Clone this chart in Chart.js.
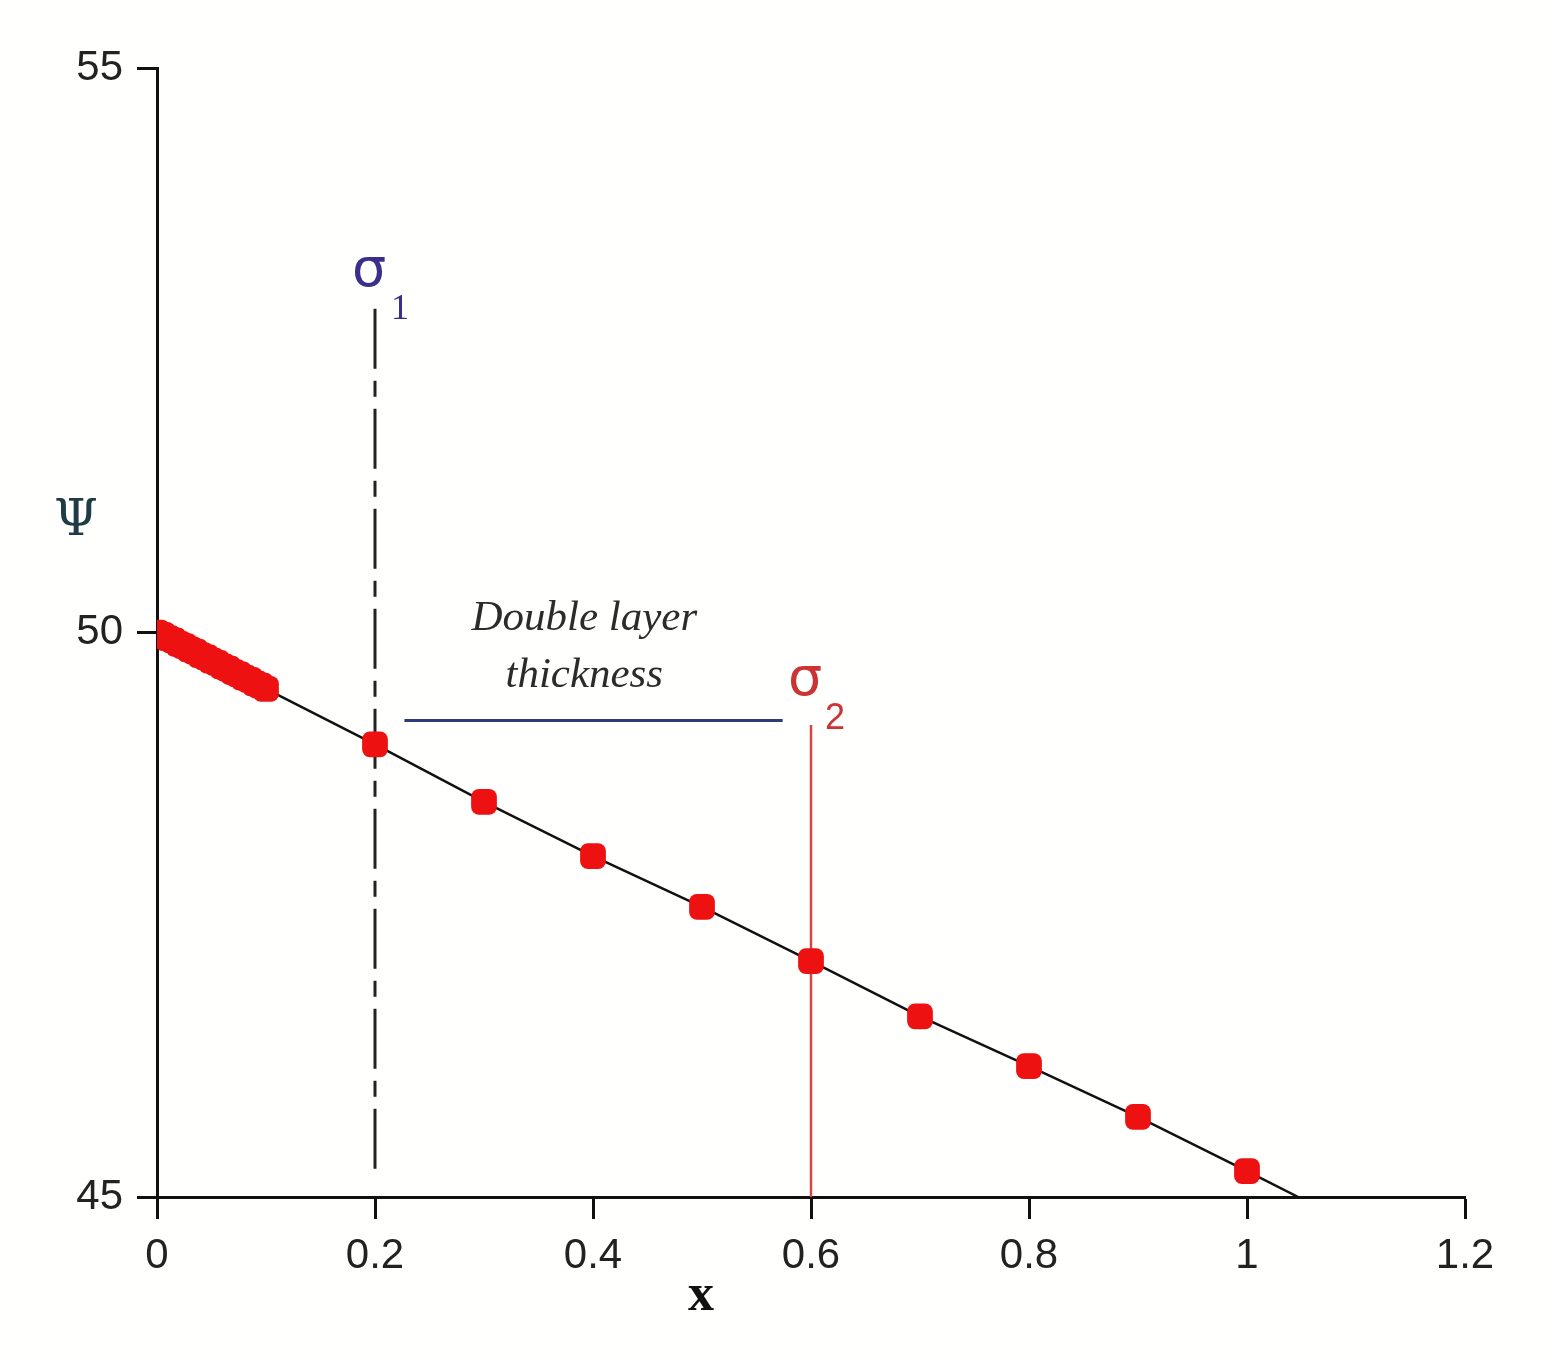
<!DOCTYPE html>
<html>
<head>
<meta charset="utf-8">
<script src="https://cdn.jsdelivr.net/npm/chart.js@4/dist/chart.umd.min.js"></script>
<style>
    html, body { margin: 0; padding: 0; background: #fffffd; }
    #wrap { width: 1555px; height: 1363px; }
</style>
</head>
<body>
<div id="wrap"><canvas id="psiChart" width="1555" height="1363"></canvas></div>
<script>
// measured points (dense part near the surface, then every 0.1)
const denseX = [0, 0.005, 0.01, 0.015, 0.02, 0.025, 0.03, 0.035, 0.04, 0.045, 0.05, 0.055, 0.06, 0.065, 0.07, 0.075, 0.08, 0.085, 0.09, 0.095, 0.1];
const denseY = [50.00, 49.98, 49.95, 49.93, 49.90, 49.88, 49.85, 49.83, 49.80, 49.78, 49.75, 49.73, 49.70, 49.68, 49.65, 49.63, 49.60, 49.58, 49.55, 49.53, 49.50];
const pointX = [0.2, 0.3, 0.4, 0.5, 0.6, 0.7, 0.8, 0.9, 1.0];
const pointY = [49.01, 48.50, 48.02, 47.57, 47.09, 46.60, 46.16, 45.71, 45.23];

// fitted line
const fitX = [0, 0.1, 0.2, 0.3, 0.4, 0.5, 0.6, 0.7, 0.8, 0.9, 1.0, 1.047];
const fitY = [50.00, 49.50, 49.01, 48.50, 48.02, 47.57, 47.09, 46.60, 46.16, 45.71, 45.23, 45.00];

// sigma planes and double layer thickness marker
const sigma1X = [0.2, 0.2];
const sigma1Y = [45.25, 52.9];
const sigma2X = [0.6, 0.6];
const sigma2Y = [49.18, 45.0];
const thickX = [0.227, 0.574];
const thickY = [49.22, 49.22];

const xTicks = [0, 0.2, 0.4, 0.6, 0.8, 1, 1.2];
const yTicks = [45, 50, 55];

const zip = (xs, ys) => xs.map((x, i) => ({ x: x, y: ys[i] }));

// text labels placed in data coordinates
const labelsPlugin = {
    id: 'labels',
    afterDraw(chart) {
        const ctx = chart.ctx;
        const xs = chart.scales.x, ys = chart.scales.y;
        const put = (txt, x, y, font, color) => {
            ctx.save();
            ctx.font = font;
            ctx.fillStyle = color;
            ctx.textAlign = 'center';
            ctx.textBaseline = 'middle';
            ctx.fillText(txt, x, y);
            ctx.restore();
        };
        // sigma 1
        put('σ', xs.getPixelForValue(0.2) - 6, ys.getPixelForValue(53.19), '54px "DejaVu Sans"', '#3b2f8c');
        put('1', xs.getPixelForValue(0.2) + 25, ys.getPixelForValue(52.86), '36px "Liberation Serif"', '#3b2f8c');
        // sigma 2
        put('σ', xs.getPixelForValue(0.6) - 6, ys.getPixelForValue(49.57), '54px "DejaVu Sans"', '#cc3333');
        put('2', xs.getPixelForValue(0.6) + 24, ys.getPixelForValue(49.23), '36px "Liberation Sans"', '#cc3333');
        // double layer text
        put('Double layer', xs.getPixelForValue(0.392), ys.getPixelForValue(50.12), 'italic 43px "Liberation Serif"', '#2b2b2b');
        put('thickness', xs.getPixelForValue(0.392), ys.getPixelForValue(49.62), 'italic 43px "Liberation Serif"', '#2b2b2b');
        // axis titles
        put('Ψ', 76, ys.getPixelForValue(50.98), '50px "DejaVu Serif"', '#1f3b45');
        put('x', xs.getPixelForValue(0.499), 1297, 'bold 52px "Liberation Serif"', '#111');
    }
};

new Chart(document.getElementById('psiChart').getContext('2d'), {
    type: 'scatter',
    data: {
        datasets: [
            {
                label: 'dense',
                data: zip(denseX, denseY),
                pointStyle: 'rectRounded',
                pointRadius: 15,
                backgroundColor: '#ee1111',
                borderColor: '#ee1111',
                borderWidth: 0,
                order: 1
            },
            {
                label: 'points',
                data: zip(pointX, pointY),
                pointStyle: 'rectRounded',
                pointRadius: 15,
                backgroundColor: '#ee1111',
                borderColor: '#ee1111',
                borderWidth: 0,
                order: 1
            },
            {
                label: 'fit',
                data: zip(fitX, fitY),
                showLine: true,
                borderColor: '#111',
                borderWidth: 2.5,
                pointRadius: 0,
                order: 2
            },
            {
                label: 'sigma1',
                data: zip(sigma1X, sigma1Y),
                showLine: true,
                borderColor: '#222',
                borderWidth: 3,
                borderDash: [60, 12, 16, 12],
                pointRadius: 0,
                order: 3
            },
            {
                label: 'sigma2',
                data: zip(sigma2X, sigma2Y),
                showLine: true,
                borderColor: '#d64545',
                borderWidth: 2.5,
                pointRadius: 0,
                order: 3
            },
            {
                label: 'thickness',
                data: zip(thickX, thickY),
                showLine: true,
                borderColor: '#2e3a7a',
                borderWidth: 3,
                pointRadius: 0,
                order: 3
            }
        ]
    },
    options: {
        responsive: false,
        maintainAspectRatio: false,
        devicePixelRatio: 1,
        animation: false,
        layout: { padding: { top: 68, right: 90, left: 0, bottom: 0 } },
        plugins: {
            legend: { display: false },
            tooltip: { enabled: false }
        },
        scales: {
            x: {
                type: 'linear',
                min: 0,
                max: 1.2,
                afterFit: (s) => { s.height = 166; },
                afterBuildTicks: (s) => { s.ticks = xTicks.map(v => ({ value: v })); },
                border: { color: '#111', width: 3 },
                grid: { drawOnChartArea: false, drawTicks: true, tickLength: 22, tickWidth: 3, color: '#111' },
                ticks: {
                    padding: 12,
                    color: '#222',
                    font: { family: 'Liberation Sans', size: 42 },
                    callback: (v) => String(+v.toFixed(1))
                }
            },
            y: {
                type: 'linear',
                min: 45,
                max: 55,
                afterFit: (s) => { s.width = 157; },
                afterBuildTicks: (s) => { s.ticks = yTicks.map(v => ({ value: v })); },
                border: { color: '#111', width: 3 },
                grid: { drawOnChartArea: false, drawTicks: true, tickLength: 20, tickWidth: 3, color: '#111' },
                ticks: {
                    padding: 14,
                    color: '#222',
                    font: { family: 'Liberation Sans', size: 42 }
                }
            }
        }
    },
    plugins: [labelsPlugin]
});
</script>
</body>
</html>
